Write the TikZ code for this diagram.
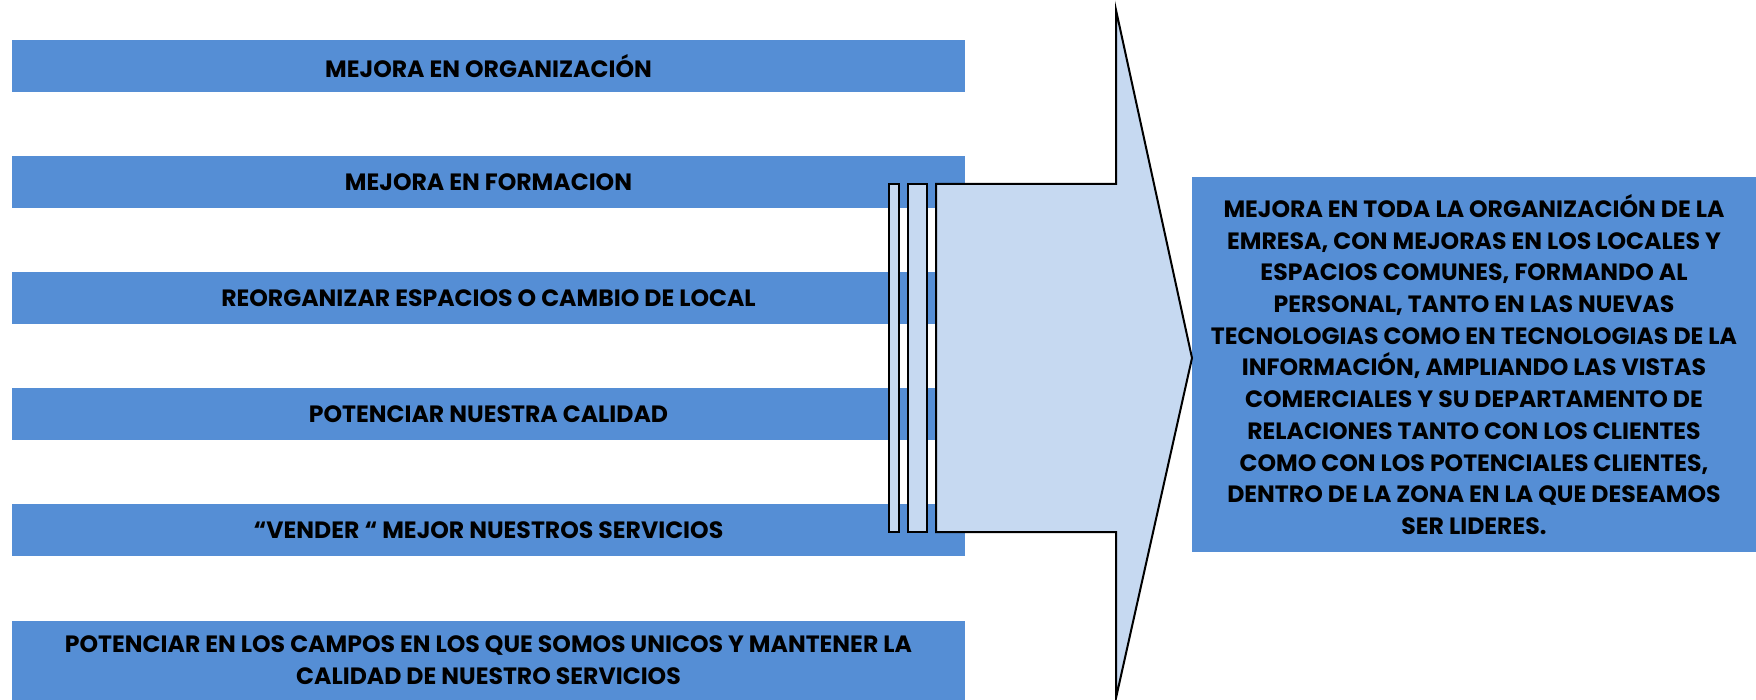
\documentclass[tikz,border=0pt]{standalone}
\usepackage{fontspec}
\setmainfont{Poppins}
\usepackage{tikz}
\definecolor{barblue}{RGB}{85,142,213}
\definecolor{arrowblue}{RGB}{198,217,241}
\tikzstyle{txt} = [font={\fontsize{11.8}{15.85}\selectfont\bfseries}, align=center, inner sep=0pt]
\tikzstyle{bar} = [txt, fill=barblue, minimum width=476.5pt, minimum height=26pt]
\tikzstyle{goal} = [txt, fill=barblue, minimum width=282pt, minimum height=187.5pt]
\tikzstyle{slat} = [draw=black, line width=1pt, fill=arrowblue]

\begin{document}
\begin{tikzpicture}[x=0.5pt,y=-0.5pt]
    \useasboundingbox (0,0) rectangle (1756,700);
    \node[bar](1) at (488.5,66){MEJORA EN ORGANIZACIÓN};
    \node[bar](2) at (488.5,182){MEJORA EN FORMACION};
    \node[bar](3) at (488.5,298){REORGANIZAR ESPACIOS O CAMBIO DE LOCAL};
    \node[bar](4) at (488.5,414){POTENCIAR NUESTRA CALIDAD};
    \node[bar](5) at (488.5,530){“VENDER “ MEJOR NUESTROS SERVICIOS};
    \node[bar,minimum height=39.5pt](6) at (488.5,660.5){POTENCIAR EN LOS CAMPOS EN LOS QUE SOMOS UNICOS Y MANTENER LA\\CALIDAD DE NUESTRO SERVICIOS};
    \node[goal](7) at (1474,364.5){MEJORA EN TODA LA ORGANIZACIÓN DE LA\\EMRESA, CON MEJORAS EN LOS LOCALES Y\\ESPACIOS COMUNES, FORMANDO AL\\PERSONAL, TANTO EN LAS NUEVAS\\TECNOLOGIAS COMO EN TECNOLOGIAS DE LA\\INFORMACIÓN, AMPLIANDO LAS VISTAS\\COMERCIALES Y SU DEPARTAMENTO DE\\RELACIONES TANTO CON LOS CLIENTES\\COMO CON LOS POTENCIALES CLIENTES,\\DENTRO DE LA ZONA EN LA QUE DESEAMOS\\SER LIDERES.};
    \draw[slat] (889,184) rectangle (899,532);
    \draw[slat] (908,184) rectangle (927,532);
    \draw[slat] (936,184) -- (1116,184) -- (1116,10) -- (1192,358) -- (1116,698) -- (1116,532) -- (936,532) -- cycle;
\end{tikzpicture}
\end{document}
